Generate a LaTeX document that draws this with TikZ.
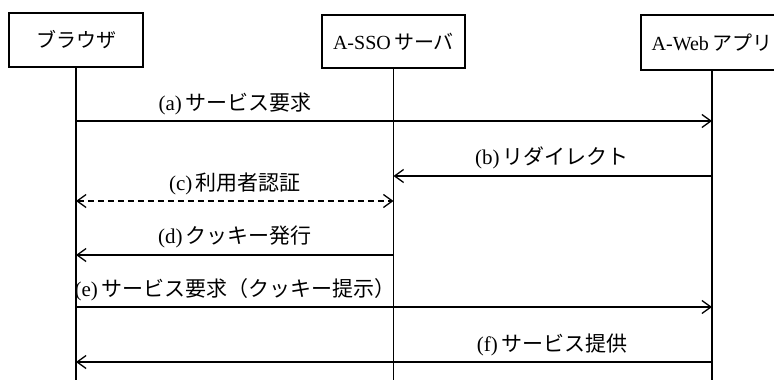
\documentclass[tikz,border=0pt]{standalone}
\usepackage{fontspec}
\setmainfont{Liberation Serif}
\newfontfamily\jp{Noto Sans CJK JP}
\usetikzlibrary{arrows.meta}
\begin{document}
\begin{tikzpicture}[x=1pt,y=-1pt,
  actor/.style={draw,line width=1.4pt,inner sep=0pt,font=\fontsize{20}{22}\selectfont},
  life/.style={line width=1.3pt},
  msg/.style={line width=1.3pt,-{Straight Barb[length=9pt,width=13pt,line width=1.3pt]}},
  bmsg/.style={line width=1.3pt,{Straight Barb[length=9pt,width=13pt,line width=1.3pt]}-{Straight Barb[length=9pt,width=13pt,line width=1.3pt]},dashed,dash pattern=on 6pt off 4pt},
  lbl/.style={font=\fontsize{21}{23}\selectfont,inner sep=0pt}]
\useasboundingbox (0,0) rectangle (774,380);
\fill[white] (0,0) rectangle (774,380);
% actors
\node[actor,minimum width=134pt,minimum height=54pt] (br) at (76,40) {{\jp ブラウザ}};
\node[actor,minimum width=143pt,minimum height=53pt] (sso) at (393.5,41.5) {A-SSO\,{\jp サーバ}};
\node[actor,minimum width=142pt,minimum height=55pt] (web) at (712,42.5) {A-Web\,{\jp アプリ}};
% lifeline ends
\coordinate (brE) at (76,382);
\coordinate (ssoE) at (393.5,382);
\coordinate (webE) at (712,382);
\draw[life] (br.south) -- (brE);
\draw[life] (sso.south) -- (ssoE);
\draw[life] (web.south) -- (webE);
% message points
\foreach \n/\y in {a/121,b/176,c/201,d/255,e/307,f/362}{
  \coordinate (br\n) at (76,\y);
  \coordinate (sso\n) at (393.5,\y);
  \coordinate (web\n) at (712,\y);
}
\draw[msg] (bra) -- (weba);
\node[lbl] (la) at (235,104) {(a)\,{\jp サービス要求}};
\draw[msg] (webb) -- (ssob);
\node[lbl] (lb) at (552,158) {(b)\,{\jp リダイレクト}};
\draw[bmsg] (brc) -- (ssoc);
\node[lbl] (lc) at (235,184) {(c)\,{\jp 利用者認証}};
\draw[msg] (ssod) -- (brd);
\node[lbl] (ld) at (235,237) {(d)\,{\jp クッキー発行}};
\draw[msg] (bre) -- (webe);
\node[lbl] (le) at (235,290) {(e)\,{\jp サービス要求（クッキー提示）}};
\draw[msg] (webf) -- (brf);
\node[lbl] (lf) at (552,345) {(f)\,{\jp サービス提供}};
\end{tikzpicture}
\end{document}
